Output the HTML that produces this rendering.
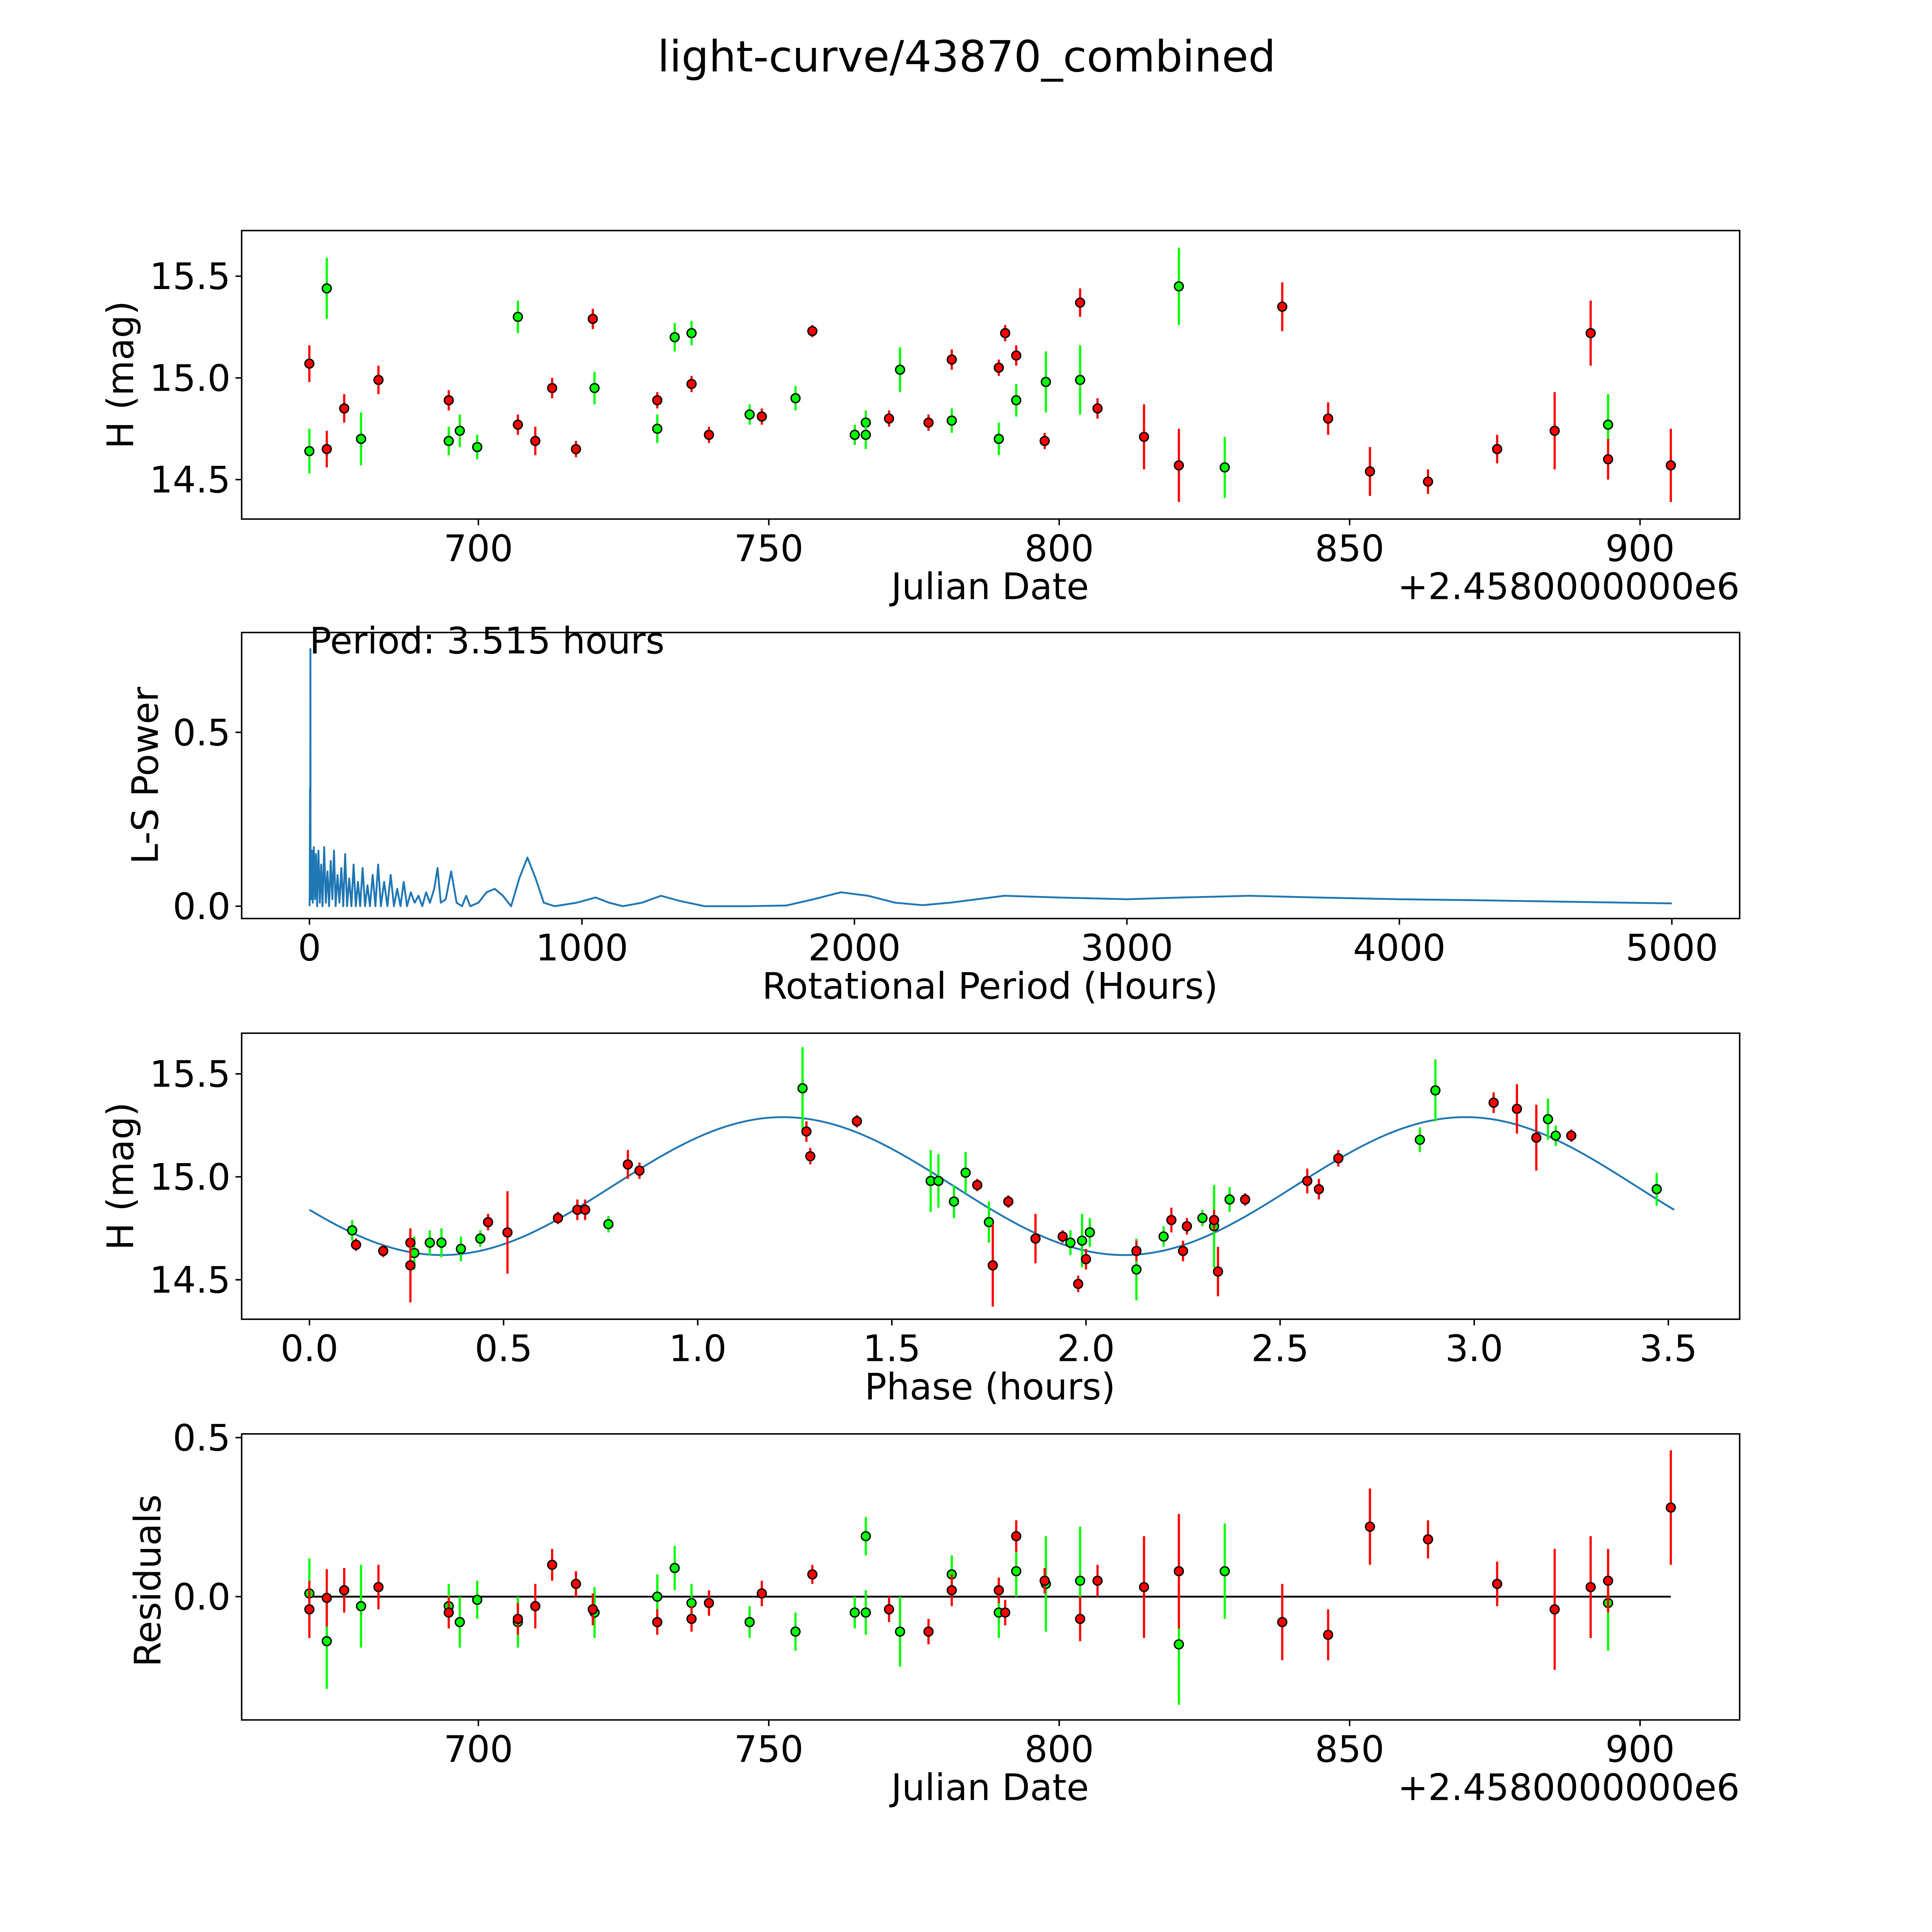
<!DOCTYPE html>
<html><head><meta charset="utf-8"><style>html,body{margin:0;padding:0;background:#fff;overflow:hidden}svg{display:block;position:absolute;left:0;top:0;width:100vw;height:100vh}text{font-family:"DejaVu Sans","Liberation Sans",sans-serif}</style></head>
<body>
<svg id="fig" viewBox="0 0 1567 1567" preserveAspectRatio="none" xmlns="http://www.w3.org/2000/svg">
<rect width="1567" height="1567" fill="#fff"/>
<text x="784" y="58" font-size="35" text-anchor="middle">light-curve/43870_combined</text>
</svg>
<script>
const redDates=[670.9,673.9,676.9,682.8,694.9,706.8,709.8,712.7,716.8,719.7,730.8,736.7,739.7,748.8,757.5,770.7,777.5,781.5,789.6,790.7,792.6,797.5,803.6,806.6,814.6,820.6,838.4,846.3,853.5,863.5,875.4,885.3,891.5,894.5,905.3];
const redMags=[15.07,14.65,14.85,14.99,14.89,14.77,14.69,14.95,14.65,15.29,14.89,14.97,14.72,14.81,15.23,14.80,14.78,15.09,15.05,15.22,15.11,14.69,15.37,14.85,14.71,14.57,15.35,14.80,14.54,14.49,14.65,14.74,15.22,14.60,14.57];
const redErrs=[0.09,0.09,0.07,0.07,0.05,0.05,0.07,0.05,0.04,0.05,0.04,0.04,0.04,0.04,0.03,0.04,0.04,0.05,0.04,0.04,0.05,0.04,0.07,0.05,0.16,0.18,0.12,0.08,0.12,0.06,0.07,0.19,0.16,0.10,0.18];
const redResid=[-0.04,-0.004,0.02,0.03,-0.05,-0.07,-0.03,0.10,0.04,-0.04,-0.08,-0.07,-0.02,0.01,0.07,-0.04,-0.11,0.02,0.02,-0.05,0.19,0.05,-0.07,0.05,0.03,0.08,-0.08,-0.12,0.22,0.18,0.04,-0.04,0.03,0.05,0.28];
const greenDates=[670.9,673.9,679.8,694.9,696.8,699.8,706.8,720.0,730.8,733.8,736.7,746.7,754.6,764.8,766.7,766.7,772.6,781.5,789.6,792.6,797.7,803.6,820.6,828.5,894.5];
const greenMags=[14.64,15.44,14.70,14.69,14.74,14.66,15.30,14.95,14.75,15.20,15.22,14.82,14.90,14.72,14.78,14.72,15.04,14.79,14.70,14.89,14.98,14.99,15.45,14.56,14.77];
const greenErrs=[0.11,0.15,0.13,0.07,0.08,0.06,0.08,0.08,0.07,0.07,0.06,0.05,0.06,0.05,0.06,0.07,0.11,0.06,0.08,0.08,0.15,0.17,0.19,0.15,0.15];
const greenResid=[0.01,-0.14,-0.03,-0.03,-0.08,-0.01,-0.08,-0.05,0.00,0.09,-0.02,-0.08,-0.11,-0.05,0.19,-0.05,-0.11,0.07,-0.05,0.08,0.04,0.05,-0.15,0.08,-0.02];
const redPhase=[0.12,0.19,0.26,0.26,0.46,0.51,0.64,0.69,0.71,0.82,0.85,1.28,1.29,1.41,1.72,1.76,1.80,1.87,1.94,1.98,2.00,2.13,2.22,2.25,2.26,2.33,2.34,2.41,2.57,2.60,2.65,3.05,3.11,3.16,3.25];
const redPhaseMags=[14.67,14.64,14.68,14.57,14.78,14.73,14.80,14.84,14.84,15.06,15.03,15.22,15.10,15.27,14.96,14.57,14.88,14.70,14.71,14.48,14.60,14.64,14.79,14.64,14.76,14.79,14.54,14.89,14.98,14.94,15.09,15.36,15.33,15.19,15.20];
const redPhaseErrs=[0.03,0.03,0.05,0.18,0.04,0.2,0.03,0.05,0.05,0.07,0.04,0.05,0.04,0.03,0.03,0.2,0.03,0.12,0.03,0.04,0.05,0.05,0.06,0.05,0.04,0.05,0.12,0.03,0.06,0.05,0.04,0.05,0.12,0.16,0.03];
const greenPhase=[0.11,0.27,0.31,0.34,0.39,0.44,0.77,1.27,1.60,1.62,1.66,1.69,1.75,1.96,1.99,2.01,2.13,2.20,2.30,2.33,2.37,2.86,2.90,3.19,3.21,3.47];
const greenPhaseMags=[14.74,14.63,14.68,14.68,14.65,14.70,14.77,15.43,14.98,14.98,14.88,15.02,14.78,14.68,14.69,14.73,14.55,14.71,14.80,14.76,14.89,15.18,15.42,15.28,15.20,14.94];
const greenPhaseErrs=[0.05,0.08,0.06,0.07,0.06,0.04,0.04,0.2,0.15,0.13,0.08,0.1,0.1,0.06,0.13,0.07,0.15,0.05,0.04,0.2,0.06,0.06,0.15,0.1,0.05,0.08];
const fitParams=[14.955,0.335,1.22,1.7575];
const lsPeriods=[1,2,3,3.5,4,6,9,12,16,20,24,28,33,38,43,48,54,60,66,72,78,84,90,96,103,110,117,124,131,138,146,154,162,170,178,186,195,204,213,222,232,242,252,262,274,286,298,310,322,334,346,358,372,386,400,414,428,442,458,470,482,500,520,540,560,575,590,620,650,680,710,740,770,800,830,860,900,980,1050,1100,1150,1220,1290,1360,1450,1600,1750,1850,1950,2050,2150,2250,2350,2550,2750,3000,3200,3450,3700,4000,4300,4600,5000];
const lsPowers=[0.05,0.34,0.05,0.74,0.1,0.02,0.16,0.01,0.17,0.02,0.15,0.0,0.16,0.01,0.12,0.0,0.17,0.01,0.10,0.0,0.13,0.02,0.16,0.0,0.09,0.01,0.11,0.0,0.15,0.0,0.08,0.0,0.12,0.0,0.07,0.0,0.11,0.0,0.06,0.0,0.09,0.0,0.12,0.0,0.07,0.0,0.09,0.0,0.05,0.0,0.07,0.0,0.04,0.01,0.03,0.0,0.04,0.01,0.05,0.11,0.01,0.02,0.10,0.01,0.0,0.03,0.0,0.01,0.04,0.05,0.03,0.0,0.08,0.14,0.08,0.01,0.0,0.01,0.025,0.01,0.0,0.01,0.03,0.015,0.0,0.0,0.002,0.02,0.04,0.03,0.01,0.003,0.01,0.03,0.025,0.02,0.025,0.03,0.025,0.02,0.017,0.013,0.008];
const jdTicks=[700,750,800,850,900];
const lsTicks=[0,1000,2000,3000,4000,5000];
const phaseTicks=[0,0.5,1,1.5,2,2.5,3,3.5];
const magTicks=[14.5,15.0,15.5];
const powTicks=[0,0.5];
const resTicks=[0,0.5];

const svg=document.getElementById('fig');
const NS='http://www.w3.org/2000/svg';
function mk(tag,attrs,parent){const e=document.createElementNS(NS,tag);for(const k in attrs)e.setAttribute(k,attrs[k]);(parent||svg).appendChild(e);return e;}
const L=196,R=1411;
const FS=29.5;
const xJD=d=>388+(d-700)*4.711;
const xLS=p=>251+p*0.221;
const xPh=p=>251+p*314.9;
const y1=m=>389-(m-14.5)*165;
const y2=v=>735-v*282;
const y3=m=>1038-(m-14.5)*167;
const y4=r=>1295-r*258;
const panels=[[187,421],[513,745],[838,1070],[1163,1395]];

function frame(i,name){const [t,b]=panels[i];const r=mk('rect',{x:L,y:t,width:R-L,height:b-t,fill:'none',stroke:'#000','stroke-width':1.2});}
function xticks(i,ticks,fx,fmt){const b=panels[i][1];ticks.forEach(v=>{const x=fx(v);const l=mk('line',{x1:x,x2:x,y1:b,y2:b+5,stroke:'#000','stroke-width':1.2});const t=mk('text',{x:x,y:b+34,'font-size':FS,'text-anchor':'middle'});t.textContent=fmt(v);});}
function yticks(ticks,fy,fmt){ticks.forEach(v=>{const y=fy(v);const l=mk('line',{x1:L-5,x2:L,y1:y,y2:y,stroke:'#000','stroke-width':1.2});const t=mk('text',{x:L-9,y:y+10.5,'font-size':FS,'text-anchor':'end'});t.textContent=fmt(v);});}
function label(txt,x,y,rot,name){const t=mk('text',{x:x,y:y,'font-size':FS,'text-anchor':'middle',transform:rot?`rotate(-90 ${x} ${y})`:''});t.textContent=txt;}
function points(xs,ys,es,fx,fy,color,name){xs.forEach((d,i)=>{const x=fx(d),y=fy(ys[i]);const l=mk('line',{x1:x,x2:x,y1:fy(ys[i]-es[i]),y2:fy(ys[i]+es[i]),stroke:color,'stroke-width':1.8});const c=mk('circle',{cx:x,cy:y,r:3.6,fill:color,stroke:'#000','stroke-width':1.1});});}
const f1=v=>v.toFixed(1);

frame(0,'lightcurve-axes');
xticks(0,jdTicks,xJD,v=>String(v));yticks(magTicks,y1,f1);
label('Julian Date',803,486,false,'x-axis-title');label('H (mag)',108,304,true,'y-axis-title');
let off=mk('text',{x:R,y:486,'font-size':FS,'text-anchor':'end'});off.textContent='+2.4580000000e6';
points(greenDates,greenMags,greenErrs,xJD,y1,'#00ff00','green');
points(redDates,redMags,redErrs,xJD,y1,'#ff0000','red');

frame(1,'periodogram-axes');
xticks(1,lsTicks,xLS,v=>String(v));yticks(powTicks,y2,f1);
label('Rotational Period (Hours)',803,810,false,'x-axis-title');label('L-S Power',128,629,true,'y-axis-title');
let pts=lsPeriods.map((p,i)=>xLS(p).toFixed(2)+','+y2(lsPowers[i]).toFixed(2)).join(' ');
pts=xLS(0.5)+','+y2(0)+' '+pts;
let pl=mk('polyline',{points:pts,fill:'none',stroke:'#1f77b4','stroke-width':1.5,'stroke-linejoin':'round'});
let pt=mk('text',{x:251,y:530,'font-size':FS});pt.textContent='Period: 3.515 hours';

frame(2,'phase-axes');
xticks(2,phaseTicks,xPh,f1);yticks(magTicks,y3,f1);
label('Phase (hours)',803,1135,false,'x-axis-title');label('H (mag)',108,954,true,'y-axis-title');
let fp=[];for(let k=0;k<=200;k++){const p=3.515*k/200;const m=fitParams[0]+fitParams[1]*Math.cos(2*Math.PI*(p-fitParams[2])/fitParams[3]);fp.push(xPh(p).toFixed(2)+','+y3(m).toFixed(2));}
let fl=mk('polyline',{points:fp.join(' '),fill:'none',stroke:'#1f77b4','stroke-width':1.5});
points(greenPhase,greenPhaseMags,greenPhaseErrs,xPh,y3,'#00ff00','green');
points(redPhase,redPhaseMags,redPhaseErrs,xPh,y3,'#ff0000','red');

frame(3,'residuals-axes');
xticks(3,jdTicks,xJD,v=>String(v));yticks(resTicks,y4,f1);
label('Julian Date',803,1460,false,'x-axis-title');label('Residuals',130,1282,true,'y-axis-title');
let off2=mk('text',{x:R,y:1460,'font-size':FS,'text-anchor':'end'});off2.textContent='+2.4580000000e6';
let zl=mk('line',{x1:xJD(redDates[0]),x2:xJD(redDates[redDates.length-1]),y1:y4(0),y2:y4(0),stroke:'#000','stroke-width':1.5});
points(greenDates,greenResid,greenErrs,xJD,y4,'#00ff00','green');
points(redDates,redResid,redErrs,xJD,y4,'#ff0000','red');
</script>
</body></html>
